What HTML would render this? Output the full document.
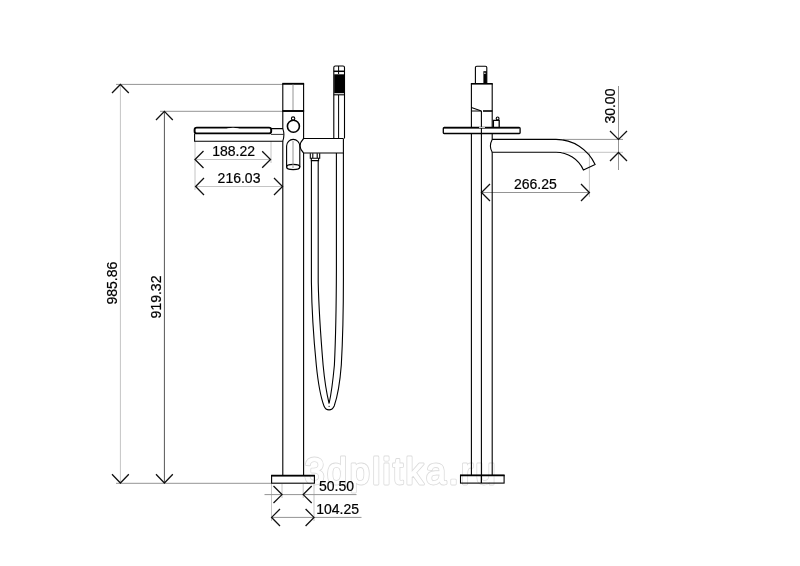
<!DOCTYPE html>
<html>
<head>
<meta charset="utf-8">
<title>3dplitka.ru</title>
<style>
html,body{margin:0;padding:0;background:#fff;}
body{width:800px;height:566px;overflow:hidden;}
svg{display:block;will-change:transform;opacity:.999;}
text{font-family:"Liberation Sans",Arial,sans-serif;font-size:14px;fill:#000;stroke:#000;stroke-width:.2;}
.m{stroke:#000;stroke-width:1.1;fill:none;}
.mf{stroke:#000;stroke-width:1.1;fill:#fff;}
.t{stroke:#000;stroke-width:1.9;fill:none;}
.tf{stroke:#000;stroke-width:1.9;fill:#fff;}
.g{stroke:#949494;stroke-width:1;fill:none;}
.g2{stroke:#c4c4c4;stroke-width:1;fill:none;}
.g3{stroke:#555;stroke-width:1;fill:none;}
.a{stroke:#111;stroke-width:1.3;fill:none;}
.wm{font-size:36px;fill:#dcdcdc;stroke:#dcdcdc;stroke-width:2.8;stroke-linejoin:round;}
.wm2{font-size:36px;fill:#fff;stroke:#fff;stroke-width:1.1;stroke-linejoin:round;}
</style>
</head>
<body>
<svg width="800" height="566" viewBox="0 0 800 566">
<rect x="0" y="0" width="800" height="566" fill="#fff"/>

<!-- watermark -->
<text class="wm" x="304.6" y="484" textLength="191" lengthAdjust="spacing">3dplitka.ru</text>
<text class="wm2" x="304.6" y="484" textLength="191" lengthAdjust="spacing">3dplitka.ru</text>

<!-- ================= LEFT VIEW ================= -->
<g id="left-dims">
  <!-- tall dimension lines -->
  <path class="g2" d="M120.4 84.5V483"/>
  <path class="g3" d="M164.4 111.5V483"/>
  <path class="g" d="M116 84.4H282.5"/>
  <path class="g" d="M160 111.3H282.5"/>
  <path class="g" d="M116 483.3H271.5"/>
  <path class="a" d="M112 93L120.4 84.5L128.8 93"/>
  <path class="a" d="M156 120L164.4 111.4L172.8 120"/>
  <path class="a" d="M112 474.3L120.4 483L128.8 474.3"/>
  <path class="a" d="M156 474.3L164.4 483L172.8 474.3"/>
  <text transform="translate(116.9 304.6) rotate(-90)">985.86</text>
  <text transform="translate(161.3 318.4) rotate(-90)">919.32</text>

  <!-- 188.22 / 216.03 -->
  <path class="g2" d="M195 141V190M271 141V163"/>
  <path class="g2" d="M195 159.5H271"/>
  <path class="g2" d="M196 186.5H282.5"/>
  <path class="a" d="M203.5 151L195 159.5L203.5 168"/>
  <path class="a" d="M262.2 151.2L270.5 159.5L262.2 167.8"/>
  <path class="a" d="M204 178L195.6 186.5L204 195"/>
  <path class="a" d="M274 178L282.5 186.5L274 195"/>
  <text x="212.2" y="155.8">188.22</text>
  <text x="217.6" y="182.6">216.03</text>

  <!-- 50.50 / 104.25 -->
  <path class="g2" d="M271.5 484V521M282 484V498M303.2 484V498M314 484V521"/>
  <path class="g" d="M264.5 494.6H356.5"/>
  <path class="g" d="M271.5 517.4H361.5"/>
  <path class="a" d="M273.5 486L282 494.6L273.5 503"/>
  <path class="a" d="M311.7 486L303.2 494.6L311.7 503"/>
  <path class="a" d="M280 509L271.6 517.4L280 526"/>
  <path class="a" d="M305.6 509L314 517.4L305.6 526"/>
  <text x="319" y="490.7">50.50</text>
  <text x="316.2" y="514">104.25</text>
</g>

<g id="left-body">
  <!-- column -->
  <path class="m" d="M282.8 83.5V128.5M282.8 141.2V475.5"/>
  <path class="m" d="M303.6 83.5V138.5M303.6 153V475.5"/>
  <path class="t" d="M282.3 83.8H304.1"/>
  <path class="t" d="M282.3 111H304.1"/>
  <path class="g" d="M293 84.5V110"/>
  <!-- knob -->
  <circle class="t" cx="293.4" cy="126.2" r="6" style="stroke-width:1.6"/>
  <circle class="m" cx="293.1" cy="118.6" r="1.7" fill="#fff"/>
  <!-- lower cylinder -->
  <path class="m" d="M286.6 167V146A6.6 6.6 0 0 1 299.8 146V167"/>
  <ellipse class="m" cx="293.2" cy="167" rx="6.6" ry="2.6" style="stroke-width:1.3"/>
  <path class="g" d="M293 141V168"/>
  <!-- spout -->
  <path class="m" d="M271 128.6H282.8Q285 134.5 282.8 141.2H194.6V133.5"/>
  <path class="m" d="M271 134.4H283.6" style="stroke-width:.8"/>
  <rect class="tf" x="194.6" y="127.6" width="76.6" height="5.8" rx="2.2" ry="2.2"/>
  <ellipse cx="233" cy="129.2" rx="6.5" ry="1.4" fill="#fff"/>
  <!-- holder -->
  <path class="m" d="M343.4 138.5H303.6Q296.5 146 303.6 153H343.4V138.5"/>
  <!-- hand shower -->
  <path class="m" d="M333.8 138.5V67.5Q333.8 66 335.3 66H343Q344.5 66 344.5 67.5V138.5"/>
  <path class="m" d="M338.6 66V74M338.6 95V138.5" style="stroke-width:1"/>
  <path class="m" d="M333.8 71.3H344.5" style="stroke-width:1.5"/>
  <rect x="334.2" y="74.3" width="10" height="18.9" fill="#000"/>
  <path class="m" d="M333.8 94.8H344.5"/>
  <!-- hose connector -->
  <path class="m" d="M310.3 153.2V158.2H319.7V153.2M311.3 158.2V160.6H318.6V158.2M312.8 153.2V158M317.2 153.2V158"/>
  <!-- hose -->
  <path class="m" d="M311.4 160.6V282C311.7 305 313.6 338 316.3 365C318 382 321 398 324 406C326 411.2 332 411.2 334.2 406C337 398 340 382 341.3 365C343 335 343.5 300 343.4 270V153"/>
  <path class="m" d="M318.2 160.6V282C318.7 305 320.6 335 323.1 365C324.5 380 327 395 329.1 403.5C331 395 333 380 334.4 365C335.6 340 336.3 300 336.4 270V153"/>
  <circle cx="329.1" cy="406.3" r=".6" fill="#000"/>
  <!-- base -->
  <rect class="m" x="271.6" y="475.6" width="42.8" height="7.6"/>
  <path class="t" d="M271.1 475.6H314.9"/>
</g>

<!-- ================= RIGHT VIEW ================= -->
<g id="right-dims">
  <path class="g" d="M618.5 86V170"/>
  <path class="g" d="M563 139.4H623"/>
  <path class="g2" d="M563 152.3H623"/>
  <path class="a" d="M610 131L618.5 139.4L627 131"/>
  <path class="a" d="M610 161L618.5 152.5L627 161"/>
  <text transform="translate(615 123.6) rotate(-90)">30.00</text>

  <path class="g2" d="M589.4 152.5V197"/>
  <path class="g" d="M482 192.5H589"/>
  <path class="a" d="M490 184L481.5 192.5L490 201"/>
  <path class="a" d="M581 184L589.4 192.5L581 201"/>
  <text x="513.9" y="188.9">266.25</text>
</g>

<g id="right-body">
  <!-- top piece -->
  <path class="m" d="M475.4 83.5V67.5Q475.4 66.2 476.8 66.2H485.4Q486.8 66.2 486.8 67.5V83.5"/>
  <rect x="483.4" y="71.2" width="3.4" height="12.3" fill="#000"/>
  <circle cx="484.9" cy="73.2" r=".8" fill="#fff"/>
  <!-- column -->
  <path class="m" d="M471.4 83.5V475.5"/>
  <path class="m" d="M492.2 83.5V139.4M492.2 152.3V475.5"/>
  <path class="m" d="M481.4 111V483"/>
  <path class="t" d="M470.9 83.8H492.7" style="stroke-width:1.6"/>
  <path class="m" d="M471.4 107.6L481.4 111"/>
  <path class="m" d="M471.4 111H481.4" style="stroke-width:1"/>
  <path class="t" d="M483 111H492.4" style="stroke-width:1.6"/>
  <!-- knob -->
  <path class="mf" d="M493.4 127V120.4H499.2V127" style="stroke-width:1.3"/>
  <circle class="mf" cx="497.6" cy="118.4" r="1.4"/>
  <!-- plate -->
  <rect class="mf" x="443.3" y="127.6" width="76.8" height="5.9" rx=".8" ry=".8" style="stroke-width:1.3"/>
  <path class="t" d="M444 127.6H519.4"/>
  <path class="m" d="M481.4 127.6V133.5"/>
  <path d="M479 127.4H485" stroke="#fff" stroke-width=".9"/>
  <!-- spout -->
  <path class="m" d="M492.2 139.4H556A43 43 0 0 1 595.1 164.5L583.4 169.9A30.1 30.1 0 0 0 556 152.3H492.2Q488.6 146 492.2 139.4"/>
  <!-- base -->
  <rect class="m" x="460.5" y="475.4" width="43.6" height="7.7"/>
  <path class="t" d="M460 475.4H504.6" style="stroke-width:1.6"/>
  <path class="m" d="M481.4 475V483"/>
</g>
</svg>
</body>
</html>
